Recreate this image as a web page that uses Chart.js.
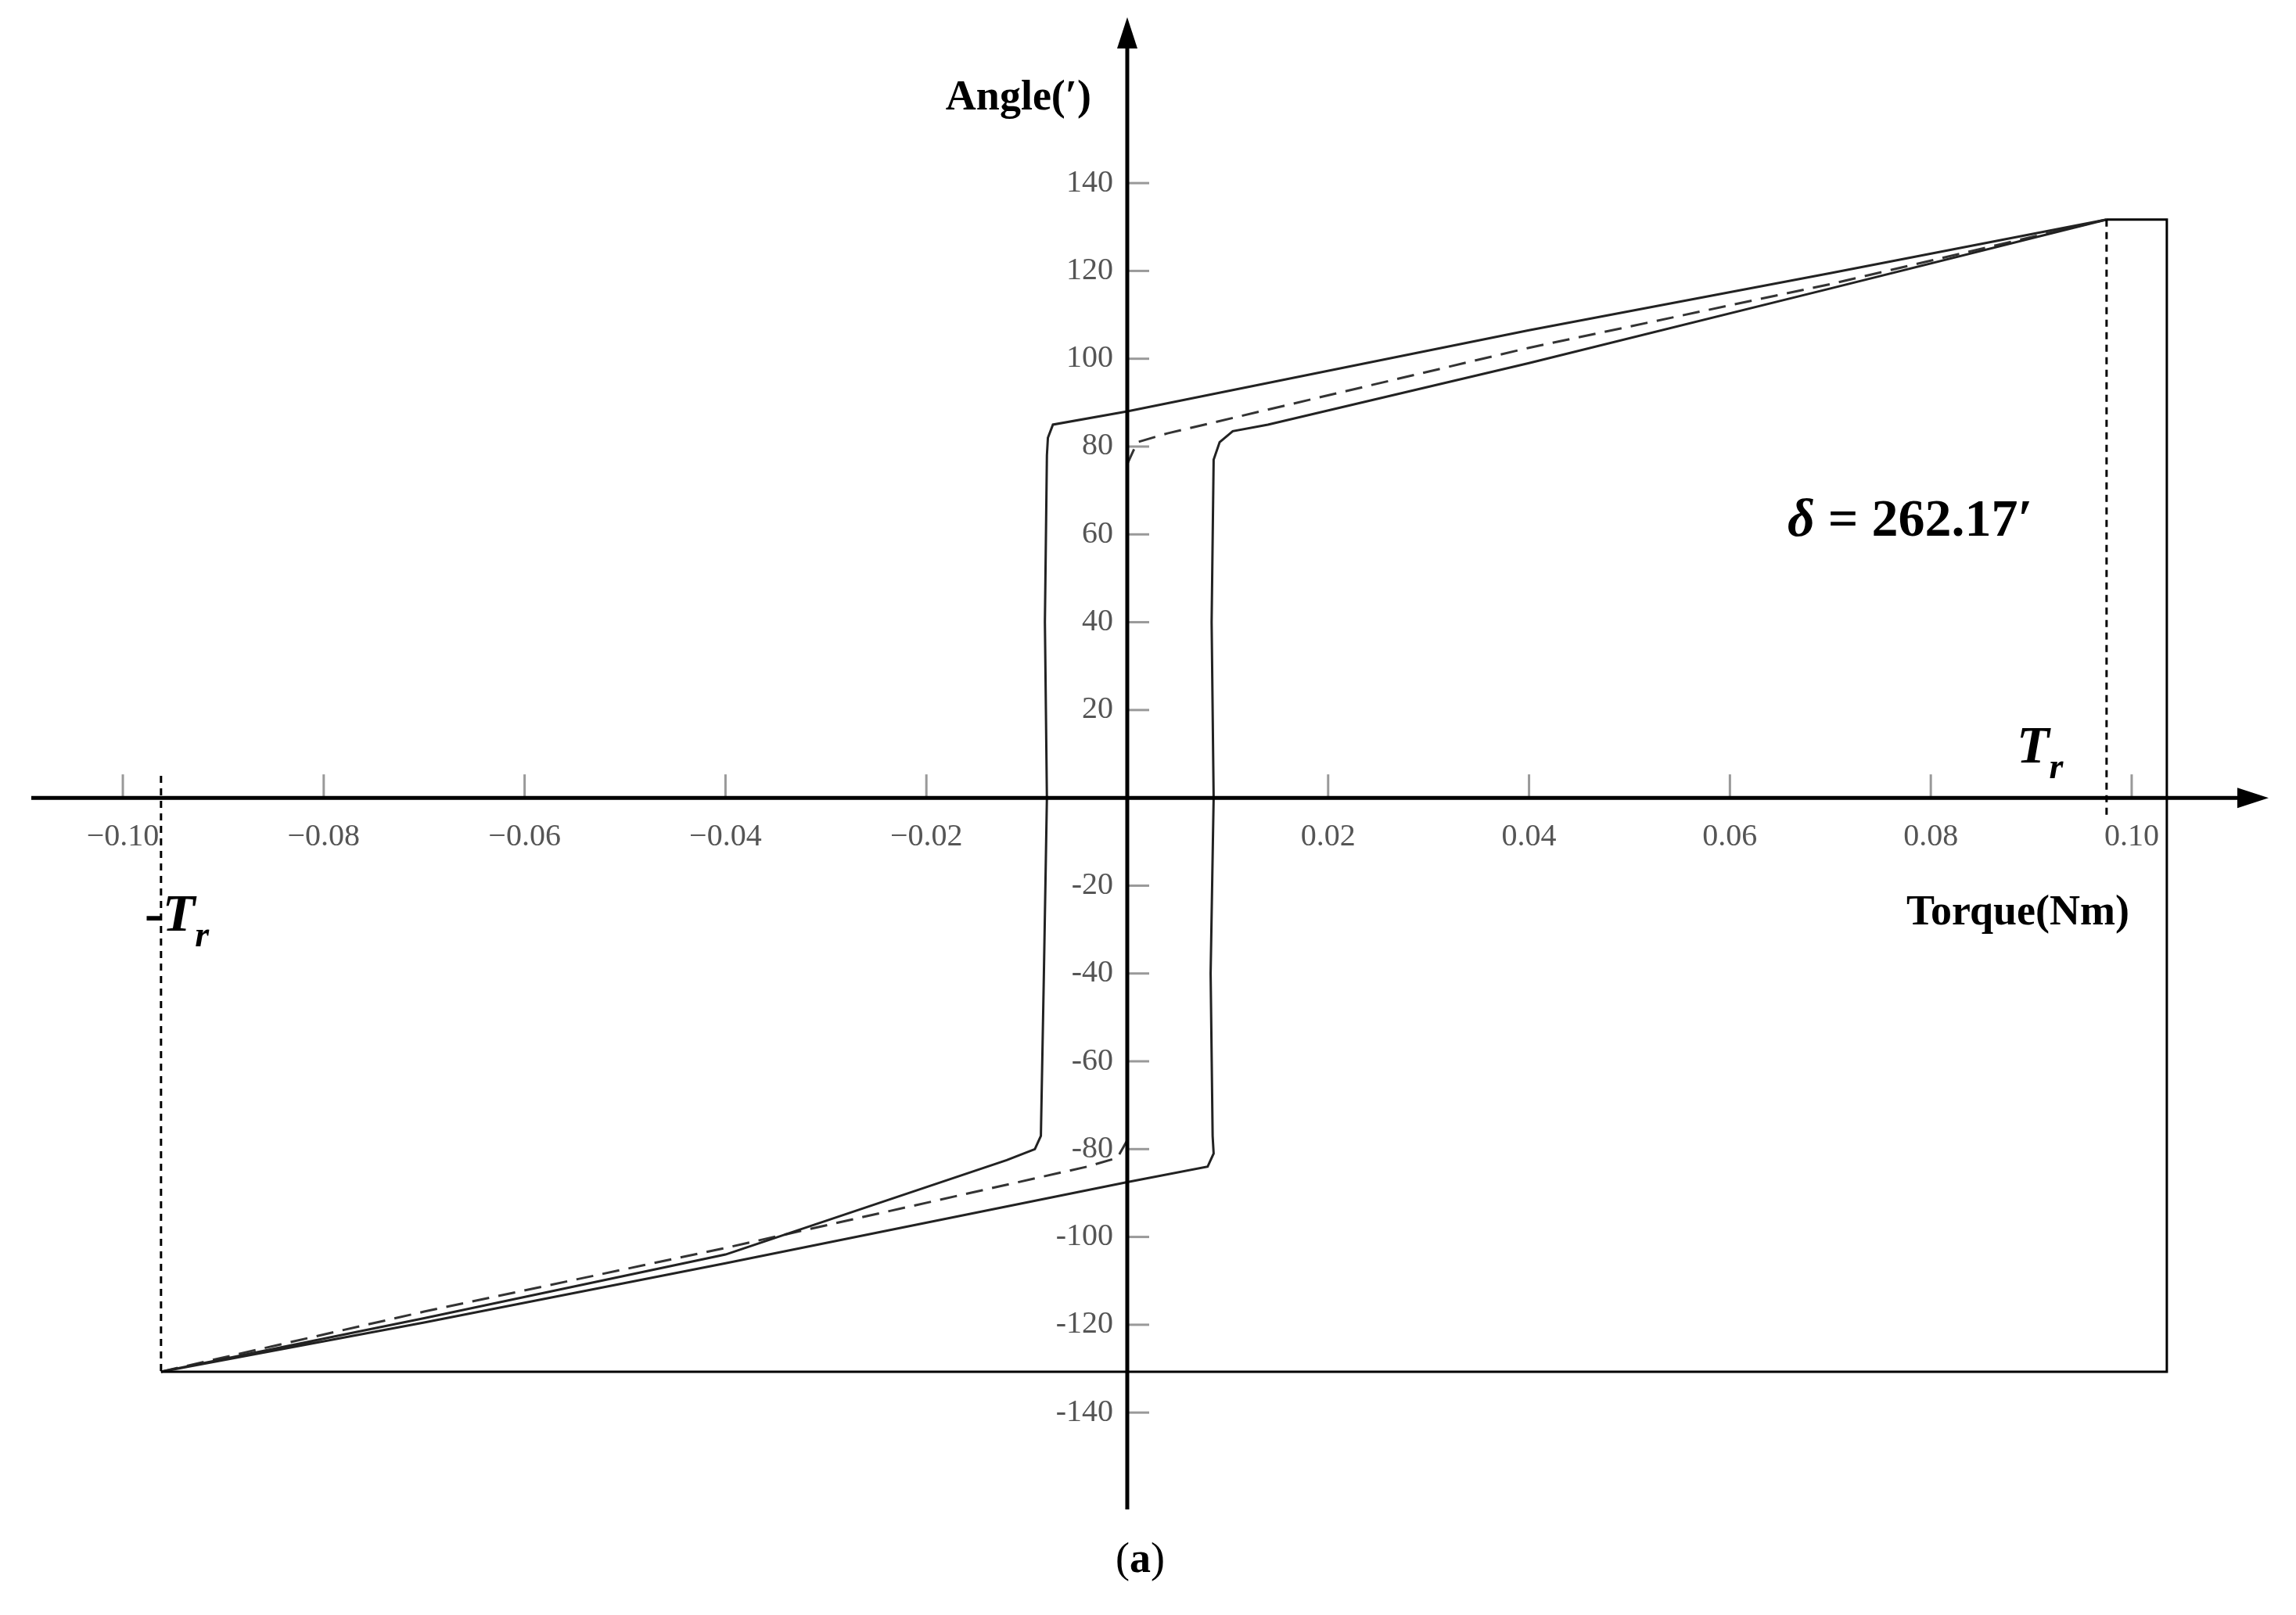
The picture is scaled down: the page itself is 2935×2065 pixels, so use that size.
<!DOCTYPE html>
<html><head><meta charset="utf-8">
<script src="https://cdn.jsdelivr.net/npm/chart.js@4"></script>
<style>html,body{margin:0;padding:0;background:#fff}canvas{display:block}</style>
</head><body>
<div style="width:2935px;height:2065px"><canvas id="c"></canvas></div>
<script>
// 外側ループ（実線）
const outerT = [-0.0962, -0.070, -0.040, -0.012, -0.0092, -0.0086, -0.0083, -0.0080, -0.0082, -0.0080, -0.0079, -0.0074, 0.000, 0.040, 0.070, 0.0975,
  0.070, 0.040, 0.014, 0.0105, 0.0092, 0.0086, 0.0084, 0.0086, 0.0083, 0.0085, 0.0086, 0.0080, 0.000, -0.040, -0.070, -0.0962];
const outerA = [-130.7, -118.5, -104, -82.5, -80, -77, -40, 0, 40, 78, 82, 85, 88, 106.5, 119.5, 131.7,
  116, 99, 85, 83.5, 81, 77, 40, 0, -40, -77, -81, -84, -87.5, -106, -119.5, -130.7];
// 中央曲線（破線）
const midT = [-0.0962, -0.070, -0.040, -0.004, -0.001, 0.000, 0.000, 0.000, 0.001, 0.004, 0.040, 0.070, 0.0975];
const midA = [-130.7, -117, -102.5, -84, -82, -78, 0, 76, 81, 83, 102.5, 117, 131.7];
const xTicks = [-0.10, -0.08, -0.06, -0.04, -0.02, 0.02, 0.04, 0.06, 0.08, 0.10];
const xTickLabels = ['\u22120.10', '\u22120.08', '\u22120.06', '\u22120.04', '\u22120.02', '0.02', '0.04', '0.06', '0.08', '0.10'];
const yTicks = [140, 120, 100, 80, 60, 40, 20, -20, -40, -60, -80, -100, -120, -140];
const Tr = 0.0975, negTr = -0.0962, angMax = 131.7, angMin = -130.7, boxT = 0.1035;

const pts = (xs, ys) => xs.map((x, i) => ({x: x, y: ys[i]}));

// 文字列を順に描く（フォント切替込み）
function runs(c, x, y, parts) {
  parts.forEach(p => {
    c.font = p[1];
    c.fillText(p[0], x, y + (p[2] || 0));
    x += c.measureText(p[0]).width;
  });
}

const axesPlugin = {
  id: 'axes',
  afterDatasetsDraw(chart) {
    const c = chart.ctx, X = chart.scales.x, Y = chart.scales.y;
    const px = v => X.getPixelForValue(v), py = v => Y.getPixelForValue(v);
    const x0 = px(0), y0 = py(0);
    c.save();
    // 参照線
    c.strokeStyle = '#000'; c.lineWidth = 3;
    c.setLineDash([9, 7]);
    c.beginPath();
    c.moveTo(px(Tr), py(angMax)); c.lineTo(px(Tr), py(-5));
    c.moveTo(px(negTr), py(5)); c.lineTo(px(negTr), py(angMin));
    c.stroke();
    c.setLineDash([]);
    c.beginPath();
    c.moveTo(px(Tr), py(angMax)); c.lineTo(px(boxT), py(angMax));
    c.lineTo(px(boxT), py(angMin)); c.lineTo(px(negTr), py(angMin));
    c.stroke();
    // 目盛り
    c.strokeStyle = '#999'; c.lineWidth = 3;
    c.fillStyle = '#555'; c.font = '40px "Liberation Serif"';
    c.textAlign = 'center'; c.textBaseline = 'top';
    xTicks.forEach((t, i) => {
      c.beginPath(); c.moveTo(px(t), y0); c.lineTo(px(t), y0 - 30); c.stroke();
      c.fillText(xTickLabels[i], px(t), y0 + 30);
    });
    c.textAlign = 'right'; c.textBaseline = 'middle';
    yTicks.forEach(t => {
      c.beginPath(); c.moveTo(x0, py(t)); c.lineTo(x0 + 28, py(t)); c.stroke();
      c.fillText(String(t), x0 - 18, py(t));
    });
    // 軸と矢印
    c.strokeStyle = '#000'; c.fillStyle = '#000'; c.lineWidth = 5;
    c.beginPath();
    c.moveTo(40, y0); c.lineTo(2880, y0);
    c.moveTo(x0, 1930); c.lineTo(x0, 40);
    c.stroke();
    c.beginPath(); c.moveTo(2900, y0); c.lineTo(2860, y0 - 13); c.lineTo(2860, y0 + 13); c.fill();
    c.beginPath(); c.moveTo(x0, 22); c.lineTo(x0 - 13, 62); c.lineTo(x0 + 13, 62); c.fill();
    // ラベル
    c.textBaseline = 'alphabetic';
    c.font = 'bold 54px "Liberation Serif"'; c.textAlign = 'right';
    c.fillText('Angle(\u2032)', 1395, 140);
    c.fillText('Torque(Nm)', 2722, 1182);
    c.textAlign = 'left';
    const BI = 'bold italic 68px "Liberation Serif"', B = 'bold 68px "Liberation Serif"', SUB = 'bold italic 46px "Liberation Serif"';
    runs(c, 2285, 685, [['\u03b4', BI], [' = 262.17\u2032', B]]);
    runs(c, 2578, 975, [['T', BI], ['r', SUB, 20]]);
    runs(c, 185, 1190, [['-', B], ['T', BI], ['r', SUB, 20]]);
    c.textAlign = 'left';
    runs(c, x0 - 15, 2010, [['(', '54px "Liberation Serif"'], ['a', 'bold 54px "Liberation Serif"'], [')', '54px "Liberation Serif"']]);
    c.restore();
  }
};

new Chart(document.getElementById('c'), {
  type: 'scatter',
  data: {
    datasets: [
      {data: pts(outerT, outerA), showLine: true, borderColor: '#222', borderWidth: 3, pointRadius: 0, tension: 0},
      {data: pts(midT, midA), showLine: true, borderColor: '#333', borderWidth: 3, borderDash: [22, 12], pointRadius: 0, tension: 0}
    ]
  },
  options: {
    responsive: true, maintainAspectRatio: false, animation: false,
    layout: {padding: 0},
    plugins: {legend: {display: false}, tooltip: {enabled: false}},
    scales: {
      x: {type: 'linear', display: false, min: -0.11223, max: 0.11636},
      y: {type: 'linear', display: false, min: -186.1, max: 181.7}
    }
  },
  plugins: [axesPlugin]
});
</script>
</body></html>
